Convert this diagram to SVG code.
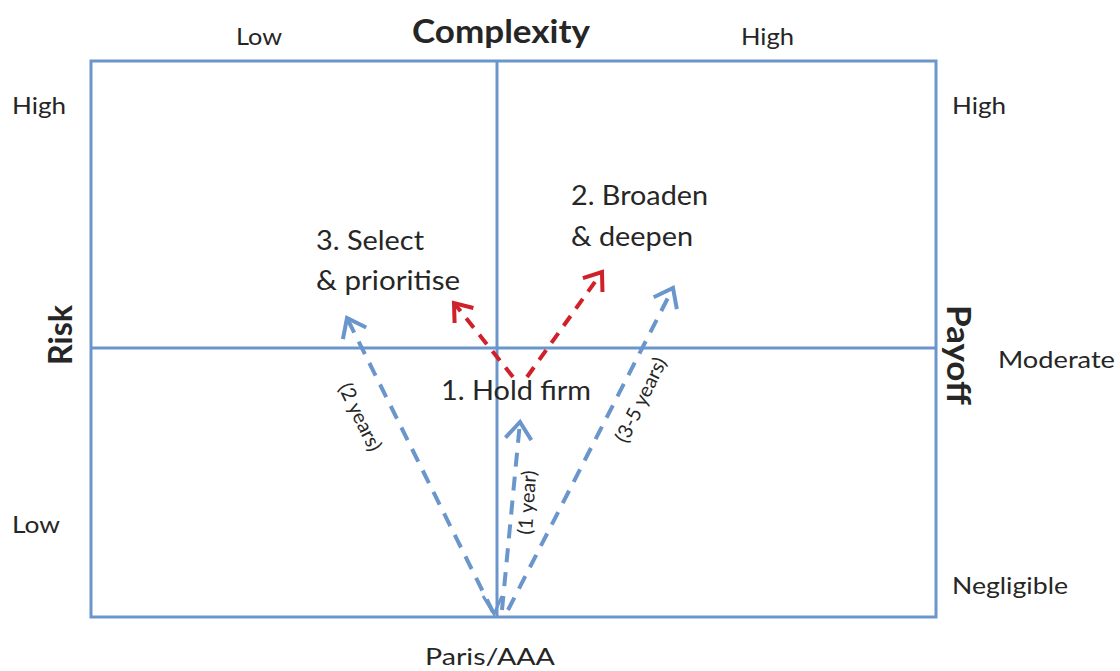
<svg xmlns="http://www.w3.org/2000/svg" width="1120" height="671" viewBox="0 0 1120 671">
<style>
.t{font-family:Lato,"Open Sans","Liberation Sans",sans-serif;fill:#262626}
.ax{font-size:23px}
.lb{font-size:27px}
.b{font-weight:bold;font-size:32px}
.sm{font-size:20px}
.grid{stroke:#6a96cc;stroke-width:3;fill:none}
.blue{stroke:#6a96cc;stroke-width:4;fill:none;stroke-dasharray:14 10}
.red{stroke:#d0202a;stroke-width:4;fill:none;stroke-dasharray:12 9}
</style>
<defs>
<marker id="ab" viewBox="0 0 10 10" refX="9" refY="5" markerWidth="10" markerHeight="10" orient="auto" markerUnits="userSpaceOnUse" overflow="visible">
<path d="M-8,-8 L9,5 L-8,18" fill="none" stroke="#6a96cc" stroke-width="4"/>
</marker>
<marker id="ar" viewBox="0 0 10 10" refX="9" refY="5" markerWidth="10" markerHeight="10" orient="auto" markerUnits="userSpaceOnUse" overflow="visible">
<path d="M-7,-7 L9,5 L-7,17" fill="none" stroke="#d0202a" stroke-width="4"/>
</marker>
</defs>
<rect x="0" y="0" width="1120" height="671" fill="#fff"/>
<g id="grid">
<rect class="grid" x="91" y="61" width="845" height="556"/>
<line class="grid" x1="497" y1="61" x2="497" y2="617"/>
<line class="grid" x1="91" y1="348" x2="936" y2="348"/>
</g>
<g id="axis-labels">
<text class="t b" x="412" y="43" textLength="178" lengthAdjust="spacingAndGlyphs">Complexity</text>
<text class="t ax" x="236" y="45" textLength="46" lengthAdjust="spacingAndGlyphs">Low</text>
<text class="t ax" x="741" y="45" textLength="53" lengthAdjust="spacingAndGlyphs">High</text>
<text class="t ax" x="12" y="114" textLength="54" lengthAdjust="spacingAndGlyphs">High</text>
<text class="t ax" x="952" y="114" textLength="54" lengthAdjust="spacingAndGlyphs">High</text>
<text class="t ax" x="12" y="533" textLength="48" lengthAdjust="spacingAndGlyphs">Low</text>
<text class="t ax" x="998" y="368" textLength="117" lengthAdjust="spacingAndGlyphs">Moderate</text>
<text class="t ax" x="952" y="594" textLength="116" lengthAdjust="spacingAndGlyphs">Negligible</text>
<text class="t b" x="-365" y="72" transform="rotate(-90)" textLength="60" lengthAdjust="spacingAndGlyphs">Risk</text>
<text class="t b" x="305" y="-947" transform="rotate(90)" textLength="100" lengthAdjust="spacingAndGlyphs">Payoff</text>
<text class="t ax" x="425" y="665" textLength="130" lengthAdjust="spacingAndGlyphs">Paris/AAA</text>
</g>
<g id="connectors">
<line class="blue" x1="493" y1="612" x2="347" y2="318" marker-end="url(#ab)"/>
<line class="blue" x1="502" y1="610" x2="520" y2="422" marker-end="url(#ab)"/>
<line class="blue" x1="508" y1="610" x2="673" y2="288" marker-end="url(#ab)"/>
<path d="M483,596 L494,614 L502,596" fill="none" stroke="#6a96cc" stroke-width="3"/>
<line class="red" x1="513" y1="377" x2="454" y2="303" marker-end="url(#ar)"/>
<line class="red" x1="527" y1="377" x2="602" y2="272" marker-end="url(#ar)"/>
</g>
<g id="n1"><text class="t lb" x="441" y="400" textLength="150" lengthAdjust="spacingAndGlyphs">1. Hold firm</text></g>
<g id="n2"><text class="t lb" x="571" y="205" textLength="137" lengthAdjust="spacingAndGlyphs">2. Broaden</text><text class="t lb" x="571" y="246" textLength="122" lengthAdjust="spacingAndGlyphs">&amp; deepen</text></g>
<g id="n3"><text class="t lb" x="316" y="250" textLength="108" lengthAdjust="spacingAndGlyphs">3. Select</text><text class="t lb" x="316" y="290" textLength="144" lengthAdjust="spacingAndGlyphs">&amp; prioritise</text></g>
<g id="edge-labels">
<text class="t sm" text-anchor="middle" transform="translate(354,420) rotate(64)">(2 years)</text>
<text class="t sm" text-anchor="middle" transform="translate(534,503) rotate(-86)">(1 year)</text>
<text class="t sm" text-anchor="middle" transform="translate(647,403) rotate(-64)">(3-5 years)</text>
</g>
</svg>
